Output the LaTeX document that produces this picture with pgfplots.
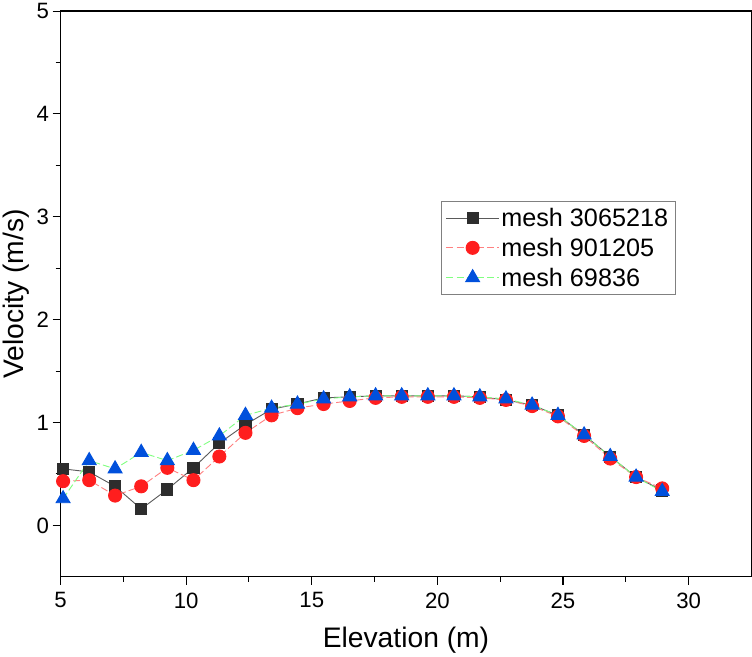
\documentclass[border=0pt]{standalone}
\usepackage{pgfplots}
\pgfplotsset{compat=1.18}
\usepackage{fontspec}
\setmainfont{Liberation Sans}
\definecolor{sqfill}{RGB}{45,45,45}
\definecolor{sqline}{RGB}{90,90,90}
\definecolor{cired}{RGB}{255,30,30}
\definecolor{ciline}{RGB}{255,128,128}
\definecolor{trblue}{RGB}{0,80,220}
\definecolor{trline}{RGB}{128,255,128}

\begin{document}
\begin{tikzpicture}
\begin{axis}[
  width=685pt, height=561pt, scale only axis,
  xmin=5, xmax=32.5, ymin=-0.5, ymax=5,
  xtick={5,10,...,30}, ytick={0,1,...,5},
  minor x tick num=1, minor y tick num=1,
  tick align=outside, tick pos=left,
  major tick length=8pt, minor tick length=5pt,
  every tick/.style={black, line width=1pt},
  axis line style={line width=1.2pt},
  /pgf/number format/assume math mode=true,
  ticklabel style={font=\fontsize{22}{26}\selectfont},
  xticklabel style={yshift=-4pt},
  label style={font=\fontsize{28}{32}\selectfont},
  xlabel style={yshift=-12pt},
  xlabel={Elevation (m)}, ylabel={Velocity (m/s)},
  legend style={at={(0.55,0.665)}, anchor=north west, draw=gray, line width=0.8pt,
    font=\fontsize{25}{27}\selectfont, row sep=6pt, inner sep=5pt},
  legend cell align=left,
  legend image code/.code={\draw[mark repeat=2,mark phase=2] plot coordinates {(0pt,0pt)(26pt,0pt)(52pt,0pt)};},
]
\addplot[sqline, line width=0.9pt, mark=square*, mark size=5.5pt,
  mark options={solid, fill=sqfill, draw=sqfill}] coordinates {
(5.10,0.55) (6.14,0.52) (7.17,0.38) (8.21,0.16) (9.25,0.35) (10.29,0.56)
(11.32,0.80) (12.36,0.98) (13.40,1.13) (14.43,1.18) (15.47,1.24) (16.51,1.25)
(17.54,1.26) (18.58,1.26) (19.62,1.26) (20.66,1.26) (21.69,1.25) (22.73,1.22)
(23.77,1.17) (24.80,1.07) (25.84,0.88) (26.88,0.67) (27.91,0.47) (28.95,0.34)};
\addlegendentry{mesh 3065218}
\addplot[ciline, line width=0.9pt, dash pattern=on 7pt off 3pt, mark=*, mark size=6.5pt,
  mark options={solid, fill=cired, draw=cired}] coordinates {
(5.10,0.43) (6.14,0.44) (7.17,0.29) (8.21,0.38) (9.25,0.56) (10.29,0.44)
(11.32,0.67) (12.36,0.90) (13.40,1.07) (14.43,1.14) (15.47,1.18) (16.51,1.21)
(17.54,1.24) (18.58,1.25) (19.62,1.25) (20.66,1.25) (21.69,1.24) (22.73,1.22)
(23.77,1.16) (24.80,1.06) (25.84,0.87) (26.88,0.65) (27.91,0.47) (28.95,0.36)};
\addlegendentry{mesh 901205}
\addplot[trline, line width=0.9pt, dash pattern=on 7pt off 3pt, mark=triangle*, mark size=8pt,
  mark options={solid, fill=trblue, draw=trblue}] coordinates {
(5.10,0.26) (6.14,0.63) (7.17,0.55) (8.21,0.71) (9.25,0.63) (10.29,0.73)
(11.32,0.87) (12.36,1.07) (13.40,1.14) (14.43,1.18) (15.47,1.23) (16.51,1.25)
(17.54,1.26) (18.58,1.26) (19.62,1.26) (20.66,1.26) (21.69,1.25) (22.73,1.23)
(23.77,1.17) (24.80,1.07) (25.84,0.88) (26.88,0.67) (27.91,0.47) (28.95,0.33)};
\addlegendentry{mesh 69836}
\end{axis}
\end{tikzpicture}
\end{document}
